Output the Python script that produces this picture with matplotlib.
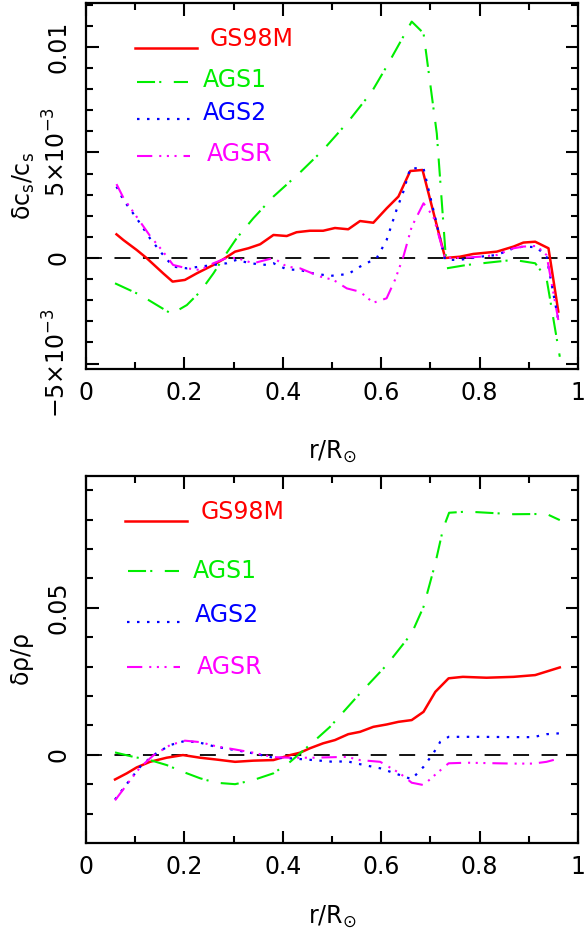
import matplotlib
matplotlib.use("Agg")
import matplotlib.pyplot as plt
import numpy as np

plt.rcParams['font.family'] = ['DejaVu Sans']
plt.rcParams['mathtext.fontset'] = 'dejavusans'
plt.rcParams['lines.scale_dashes'] = False

# ---------------- data: sound speed (units of 1e-3) ----------------
cs_gs98m_r = [0.062,0.076,0.103,0.123,0.157,0.176,0.201,0.225,0.259,0.279,0.303,0.33,0.354,0.381,0.408,0.428,0.455,0.482,0.506,0.533,0.557,0.584,0.611,0.635,0.659,0.684,0.730,0.760,0.787,0.835,0.869,0.889,0.913,0.940,0.960]
cs_gs98m_v = [1.12,0.85,0.38,0.0,-0.73,-1.12,-1.04,-0.73,-0.33,-0.06,0.30,0.46,0.65,1.09,1.04,1.22,1.29,1.29,1.42,1.36,1.75,1.67,2.35,2.91,4.12,4.17,0.0,0.06,0.19,0.30,0.54,0.73,0.77,0.46,-2.54]

cs_ags1_r = [0.059,0.11,0.144,0.174,0.205,0.232,0.259,0.279,0.306,0.34,0.381,0.435,0.482,0.533,0.581,0.611,0.662,0.686,0.713,0.733,0.774,0.869,0.913,0.936,0.963]
cs_ags1_v = [-1.2,-1.75,-2.23,-2.65,-2.23,-1.6,-0.73,0.0,0.93,1.88,2.91,4.05,5.12,6.46,7.88,9.07,11.2,10.65,5.9,-0.49,-0.33,-0.09,-0.25,-0.96,-4.68]

cs_ags2_r = [0.062,0.076,0.103,0.13,0.154,0.177,0.205,0.232,0.259,0.286,0.306,0.333,0.367,0.381,0.408,0.435,0.462,0.496,0.533,0.557,0.591,0.611,0.631,0.645,0.659,0.686,0.73,0.76,0.801,0.835,0.869,0.889,0.916,0.936,0.96]
cs_ags2_v = [3.38,2.75,1.88,0.93,0.22,-0.41,-0.49,-0.41,-0.33,-0.25,-0.09,-0.25,-0.33,-0.25,-0.54,-0.57,-0.73,-0.85,-0.76,-0.41,0.0,0.85,2.27,3.14,4.25,4.25,-0.09,-0.09,0.06,0.14,0.46,0.54,0.51,0.06,-2.94]

cs_agsr_r = [0.062,0.076,0.103,0.13,0.154,0.177,0.205,0.232,0.259,0.286,0.306,0.34,0.381,0.408,0.435,0.476,0.503,0.53,0.557,0.584,0.611,0.628,0.645,0.662,0.686,0.706,0.73,0.76,0.801,0.835,0.869,0.889,0.916,0.936,0.96]
cs_agsr_v = [3.5,2.85,1.95,1.05,0.38,-0.33,-0.49,-0.57,-0.25,0.0,0.0,-0.25,0.0,-0.41,-0.49,-0.88,-1.04,-1.44,-1.6,-2.12,-1.91,-1.04,0.06,1.48,2.59,1.96,0.0,0.0,0.06,0.14,0.46,0.54,0.57,0.14,-2.94]

# ---------------- data: density ----------------
rho_gs98m_r = [0.059,0.083,0.103,0.13,0.164,0.197,0.232,0.264,0.303,0.34,0.381,0.415,0.435,0.455,0.482,0.506,0.533,0.557,0.584,0.611,0.635,0.662,0.686,0.71,0.737,0.766,0.814,0.869,0.913,0.963]
rho_gs98m_v = [-0.0084,-0.0063,-0.0043,-0.0024,-0.001,-0.0001,-0.001,-0.0016,-0.0024,-0.002,-0.0018,-0.0001,0.0007,0.0022,0.0039,0.005,0.007,0.0078,0.0095,0.0103,0.0112,0.0118,0.0146,0.0214,0.026,0.0265,0.0262,0.0265,0.0271,0.0297]

rho_ags1_r = [0.059,0.096,0.13,0.164,0.197,0.232,0.264,0.303,0.34,0.381,0.415,0.435,0.462,0.496,0.557,0.611,0.662,0.686,0.71,0.726,0.738,0.774,0.869,0.936,0.963]
rho_ags1_v = [0.0008,-0.0007,-0.0018,-0.0035,-0.0058,-0.008,-0.0095,-0.01,-0.0086,-0.0063,-0.0024,0.0005,0.0044,0.0095,0.0209,0.0305,0.0413,0.0503,0.0651,0.077,0.0823,0.0827,0.0818,0.0819,0.0798]

rho_ags2_r = [0.059,0.089,0.11,0.137,0.171,0.201,0.232,0.264,0.303,0.34,0.381,0.415,0.462,0.503,0.53,0.557,0.598,0.638,0.662,0.686,0.706,0.72,0.737,0.801,0.869,0.909,0.936,0.963]
rho_ags2_v = [-0.0152,-0.0086,-0.0041,-0.0001,0.0033,0.0047,0.0041,0.0027,0.0016,0.0005,-0.001,-0.0012,-0.0018,-0.0024,-0.0022,-0.0032,-0.0046,-0.0069,-0.0083,-0.0041,0.0005,0.0044,0.0061,0.0061,0.006,0.006,0.007,0.0073]

rho_agsr_r = [0.059,0.089,0.11,0.137,0.171,0.201,0.232,0.264,0.303,0.34,0.381,0.415,0.462,0.53,0.557,0.598,0.638,0.662,0.686,0.713,0.737,0.774,0.869,0.909,0.936,0.963]
rho_agsr_v = [-0.0155,-0.0088,-0.0043,-0.0002,0.0033,0.0048,0.0043,0.0029,0.0018,0.0007,-0.0008,-0.001,-0.001,-0.0007,-0.0018,-0.0024,-0.0063,-0.0095,-0.0103,-0.0063,-0.0029,-0.0027,-0.003,-0.003,-0.0024,-0.0012]

labels = ['GS98M', 'AGS1', 'AGS2', 'AGSR']
colors = ['#ff0000', '#00ee00', '#0000ff', '#ff00ff']
styles = ['-', (0, (13, 3, 1.5, 9)), (0, (1.8, 5.4)), (0, (11, 5, 1.5, 4, 1.5, 4, 1.5, 5))]
widths = [1.8, 1.5, 1.6, 1.5]

xticks = [0, 0.2, 0.4, 0.6, 0.8, 1.0]
xticklabels = ['0', '0.2', '0.4', '0.6', '0.8', '1']
cs_yticks = [-5e-3, 0, 5e-3, 0.01]
cs_yticklabels = [r'$-5×10^{-3}$', '0', r'$5×10^{-3}$', '0.01']
rho_yticks = [0, 0.05]
rho_yticklabels = ['0', '0.05']

fig = plt.figure(figsize=(5.85, 9.42), dpi=100)
ax1 = fig.add_axes([86/585, 1-369/942, 492/585, 366/942])
ax2 = fig.add_axes([86/585, 1-842.7/942, 492/585, 367/942])

FS = 17

def style_axes(ax):
    for s in ax.spines.values():
        s.set_linewidth(1.6)
    ax.tick_params(which='both', direction='in', top=True, right=True, width=1.5, labelsize=FS)
    ax.tick_params(which='major', length=9)
    ax.tick_params(which='minor', length=5)
    ax.tick_params(axis='x', pad=9)
    ax.tick_params(axis='y', pad=11, labelrotation=90)
    ax.set_xlim(0, 1)
    ax.set_xticks(xticks)
    ax.set_xticklabels(xticklabels)
    ax.set_xticks(np.arange(0.1, 1.0, 0.2), minor=True)
    ax.set_xlabel(r'$\mathrm{r/R_{\odot}}$', fontsize=FS)
    ax.axhline(0, color='black', lw=1.3, ls=(0, (11.5, 9)), zorder=1)

# ---- top panel
for r, v, c, st, w in zip([cs_gs98m_r, cs_ags1_r, cs_ags2_r, cs_agsr_r],
                          [cs_gs98m_v, cs_ags1_v, cs_ags2_v, cs_agsr_v],
                          colors, styles, widths):
    ax1.plot(r, np.array(v) * 1e-3, color=c, ls=st, lw=w, zorder=3)
style_axes(ax1)
ax1.set_ylim(-5.26e-3, 12.08e-3)
ax1.set_yticks(cs_yticks)
ax1.set_yticklabels(cs_yticklabels)
ax1.set_yticks(np.arange(-5e-3, 12.01e-3, 1e-3), minor=True)
for lab in ax1.get_yticklabels():
    lab.set_verticalalignment('center')
ax1.set_ylabel(r'$\mathrm{\delta c_s/c_s}$', fontsize=FS)
ax1.yaxis.set_label_coords(-0.127, 0.5)
ax1.yaxis.label.set_verticalalignment('center')
ax1.xaxis.set_label_coords(0.5, -0.19)

leg1_line_x = [(0.0996, 0.226), (0.103, 0.207), (0.103, 0.211), (0.103, 0.211)]
leg1_line_y = [0.877, 0.784, 0.683, 0.582]
leg1_text_x = [0.252, 0.238, 0.238, 0.246]
leg1_text_y = [0.902, 0.790, 0.699, 0.587]
for i in range(4):
    ax1.plot(leg1_line_x[i], [leg1_line_y[i]] * 2, transform=ax1.transAxes, color=colors[i],
             ls=styles[i], lw=widths[i], clip_on=False)
    ax1.text(leg1_text_x[i], leg1_text_y[i], labels[i], transform=ax1.transAxes, color=colors[i],
             fontsize=FS, ha='left', va='center')

# ---- bottom panel
for r, v, c, st, w in zip([rho_gs98m_r, rho_ags1_r, rho_ags2_r, rho_agsr_r],
                          [rho_gs98m_v, rho_ags1_v, rho_ags2_v, rho_agsr_v],
                          colors, styles, widths):
    ax2.plot(r, v, color=c, ls=st, lw=w, zorder=3)
style_axes(ax2)
ax2.set_ylim(-0.0299, 0.0949)
ax2.set_yticks(rho_yticks)
ax2.set_yticklabels(rho_yticklabels)
ax2.set_yticks(np.arange(-0.02, 0.091, 0.01), minor=True)
for lab in ax2.get_yticklabels():
    lab.set_verticalalignment('center')
ax2.set_ylabel(r'$\mathrm{\delta\rho/\rho}$', fontsize=FS)
ax2.yaxis.set_label_coords(-0.13, 0.5)
ax2.yaxis.label.set_verticalalignment('center')
ax2.xaxis.set_label_coords(0.5, -0.165)

leg2_line_x = [(0.079, 0.205), (0.085, 0.19), (0.083, 0.191), (0.083, 0.191)]
leg2_line_y = [0.877, 0.740, 0.601, 0.480]
leg2_text_x = [0.232, 0.217, 0.222, 0.226]
leg2_text_y = [0.901, 0.740, 0.620, 0.480]
for i in range(4):
    ax2.plot(leg2_line_x[i], [leg2_line_y[i]] * 2, transform=ax2.transAxes, color=colors[i],
             ls=styles[i], lw=widths[i], clip_on=False)
    ax2.text(leg2_text_x[i], leg2_text_y[i], labels[i], transform=ax2.transAxes, color=colors[i],
             fontsize=FS, ha='left', va='center')

fig.savefig('out.png', dpi=100)
